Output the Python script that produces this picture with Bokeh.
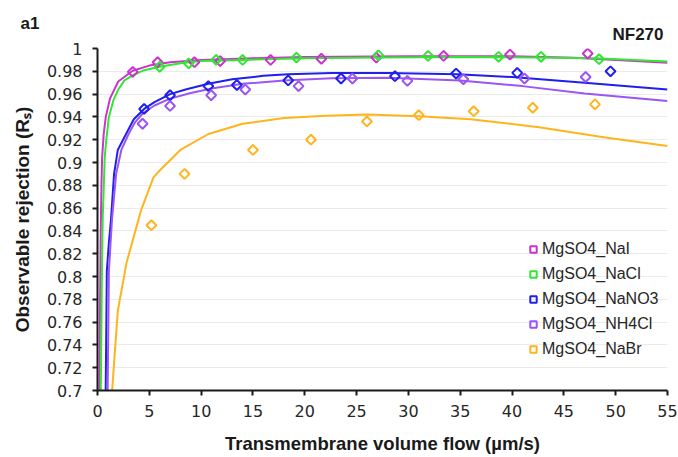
import numpy as np
from bokeh.plotting import figure
from bokeh.models import (ColumnDataSource, FixedTicker, Legend, LegendItem, Title)
from bokeh.embed import file_html
from bokeh.resources import INLINE

# ---------------- data ----------------
series_names = ["MgSO4_NaI", "MgSO4_NaCl", "MgSO4_NaNO3", "MgSO4_NH4Cl", "MgSO4_NaBr"]
series_colors = ["#CC33CC", "#33E633", "#1F1FEE", "#9C55F2", "#FFB41E"]

# measured points
nai_x = [3.4, 5.8, 9.35, 11.84, 16.7, 21.6, 26.9, 33.4, 39.8, 47.3]
nai_y = [0.9795, 0.988, 0.988, 0.989, 0.990, 0.991, 0.992, 0.9935, 0.9947, 0.9956]
nacl_x = [6.0, 8.8, 11.45, 14.0, 19.2, 27.1, 31.9, 38.7, 42.8, 48.4]
nacl_y = [0.984, 0.987, 0.990, 0.990, 0.992, 0.994, 0.9935, 0.9927, 0.9927, 0.9906]
nano3_x = [4.5, 7.0, 10.7, 13.45, 18.4, 23.5, 28.7, 34.6, 40.5, 49.5]
nano3_y = [0.947, 0.959, 0.967, 0.968, 0.972, 0.9737, 0.9757, 0.978, 0.9786, 0.980]
nh4cl_x = [4.35, 7.0, 10.97, 14.26, 19.4, 24.6, 29.9, 35.3, 41.2, 47.1]
nh4cl_y = [0.934, 0.9496, 0.959, 0.964, 0.967, 0.9737, 0.9716, 0.973, 0.9737, 0.975]
nabr_x = [5.2, 8.4, 15.0, 20.6, 26.0, 31.0, 36.3, 42.0, 48.0]
nabr_y = [0.845, 0.890, 0.911, 0.920, 0.936, 0.9415, 0.945, 0.948, 0.951]

# fitted curves
nai_fit_x = [0.19, 0.25, 0.3, 0.38, 0.45, 0.6, 0.8, 1.2, 2.0, 3.4, 5, 7, 10, 15, 20, 30, 40, 46, 55]
nai_fit_y = [0.70, 0.78, 0.83, 0.88, 0.905, 0.925, 0.94, 0.956, 0.971, 0.9805, 0.985, 0.988, 0.990,
             0.9915, 0.9925, 0.9932, 0.9932, 0.9918, 0.9875]
nacl_fit_x = [0.32, 0.42, 0.5, 0.7, 0.85, 1.1, 1.55, 2.0, 2.6, 3.5, 4.5, 6, 8, 10, 14, 20, 27, 35, 42, 48, 55]
nacl_fit_y = [0.70, 0.80, 0.85, 0.905, 0.92, 0.94, 0.955, 0.964, 0.972, 0.977, 0.981, 0.984, 0.987,
              0.989, 0.990, 0.9915, 0.992, 0.9925, 0.9922, 0.9915, 0.9887]
nano3_fit_x = [0.79, 0.9, 1.1, 1.3, 1.6, 1.96, 2.58, 3.5, 4.5, 5.5, 7, 8.5, 10.7, 13, 16, 18.4, 22.6,
               28, 34.7, 40, 47, 55]
nano3_fit_y = [0.70, 0.805, 0.83, 0.85, 0.89, 0.911, 0.922, 0.938, 0.947, 0.953, 0.960, 0.964, 0.969,
               0.973, 0.976, 0.9775, 0.9786, 0.9785, 0.9774, 0.975, 0.970, 0.964]
nh4cl_fit_x = [0.98, 1.1, 1.4, 1.8, 2.3, 3.0, 3.6, 4.35, 5.5, 7, 9, 11, 14, 18, 22.6, 28, 35, 41, 47, 55]
nh4cl_fit_y = [0.70, 0.805, 0.85, 0.89, 0.911, 0.925, 0.935, 0.943, 0.950, 0.956, 0.961, 0.965, 0.969,
               0.972, 0.974, 0.9743, 0.972, 0.967, 0.9605, 0.954]
nabr_fit_x = [1.41, 1.96, 2.8, 4.2, 5.4, 6.0, 8.0, 10.7, 14, 18, 22, 26, 31, 36, 42.6, 49, 55]
nabr_fit_y = [0.70, 0.77, 0.812, 0.858, 0.887, 0.893, 0.911, 0.925, 0.934, 0.939, 0.941, 0.942,
              0.9406, 0.938, 0.931, 0.922, 0.9145]

x_ticks = [0, 5, 10, 15, 20, 25, 30, 35, 40, 45, 50, 55]
y_ticks = [0.7, 0.72, 0.74, 0.76, 0.78, 0.8, 0.82, 0.84, 0.86, 0.88, 0.9, 0.92, 0.94, 0.96, 0.98, 1.0]
y_tick_labels = ["0.7", "0.72", "0.74", "0.76", "0.78", "0.8", "0.82", "0.84", "0.86", "0.88",
                 "0.9", "0.92", "0.94", "0.96", "0.98", "1"]

points = [(nai_x, nai_y), (nacl_x, nacl_y), (nano3_x, nano3_y), (nh4cl_x, nh4cl_y), (nabr_x, nabr_y)]
fits = [(nai_fit_x, nai_fit_y), (nacl_fit_x, nacl_fit_y), (nano3_fit_x, nano3_fit_y),
        (nh4cl_fit_x, nh4cl_fit_y), (nabr_fit_x, nabr_fit_y)]

# ---------------- figure ----------------
p = figure(width=678, height=457, x_range=(0, 55), y_range=(0.7, 1.0),
           output_backend="svg", toolbar_location=None,
           min_border_left=97, min_border_right=11, min_border_top=48, min_border_bottom=67)
p.outline_line_color = None
p.background_fill_color = "white"
p.border_fill_color = "white"

# figure tag "a1" (left, upper) and panel name "NF270" (right, lower, nearest the frame)
p.title.text = "a1"
p.title.align = "left"
p.title.text_font = "Liberation Sans"
p.title.text_font_style = "bold"
p.title.text_font_size = "17px"
p.title.text_color = "#1a1a1a"
p.title.standoff = -28
p.title.offset = -77

panel_name = Title(text="NF270", align="right", text_font="Liberation Sans", text_font_style="bold",
                   text_font_size="17px", text_color="#1a1a1a", standoff=9, offset=4)
p.add_layout(panel_name, "above")

p.xgrid.visible = False
p.ygrid.grid_line_color = "#EBEBEB"
p.ygrid.grid_line_width = 1

p.xaxis.ticker = FixedTicker(ticks=x_ticks)
p.yaxis.ticker = FixedTicker(ticks=y_ticks)
p.yaxis.major_label_overrides = {t: s for t, s in zip(y_ticks, y_tick_labels)}

for ax in (p.xaxis, p.yaxis):
    ax.axis_line_color = "#1a1a1a"
    ax.axis_line_width = 2
    ax.major_tick_line_color = "#1a1a1a"
    ax.major_tick_line_width = 2
    ax.major_tick_out = 5
    ax.major_tick_in = 0
    ax.minor_tick_line_color = None
    ax.major_label_text_font = "DejaVu Sans"
    ax.major_label_text_font_size = "16px"
    ax.major_label_text_color = "#262626"
    ax.axis_label_text_font = "Liberation Sans"
    ax.axis_label_text_font_style = "bold"
    ax.axis_label_text_color = "#1a1a1a"

p.xaxis.axis_label = "Transmembrane volume flow (µm/s)"
p.xaxis.axis_label_text_font_size = "18.5px"
p.xaxis.major_label_standoff = 9
p.xaxis.axis_label_standoff = 13
p.yaxis.axis_label = "Observable rejection (Rₛ)"
p.yaxis.axis_label_text_font_size = "19px"
p.yaxis.major_label_standoff = 10
p.yaxis.axis_label_standoff = 11

# curves
for (fx, fy), c in zip(fits, series_colors):
    p.line(fx, fy, line_color=c, line_width=2)

# markers
legend_items = []
for (px, py), c, name in zip(points, series_colors, series_names):
    src = ColumnDataSource(dict(x=px, y=py))
    r = p.scatter("x", "y", source=src, marker="square", angle=np.pi / 4, size=7,
                  line_color=c, line_width=2, fill_alpha=0)
    legend_items.append(LegendItem(label=name, renderers=[r]))

legend = Legend(items=legend_items, location=(428, 31), orientation="vertical",
                background_fill_alpha=0, border_line_color=None,
                padding=0, margin=0, spacing=5, glyph_width=16, glyph_height=20,
                label_height=20, label_standoff=1,
                label_text_font="Liberation Sans", label_text_font_size="16px",
                label_text_color="#262626")
p.add_layout(legend, "center")

open("out.html", "w").write(file_html(p, INLINE))
